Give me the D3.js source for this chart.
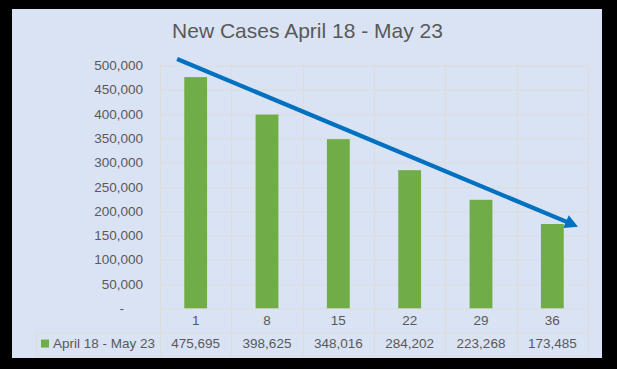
<!DOCTYPE html>
<html>
<head>
<meta charset="utf-8">
<script src="https://cdn.jsdelivr.net/npm/d3@7"></script>
<style>
  html, body { margin: 0; padding: 0; background: #000; }
  svg { display: block; }
</style>
</head>
<body>
<div id="chart"></div>
<script>
// data
const title = "New Cases April 18 - May 23"
const seriesName = "April 18 - May 23"
const days = ["1", "8", "15", "22", "29", "36"]
const cases = [475695, 398625, 348016, 284202, 223268, 173485]
const yTicks = [0, 50000, 100000, 150000, 200000, 250000, 300000, 350000, 400000, 450000, 500000]
// trend arrow, in (category position, value)
const trendFrom = [0.24, 513000]
const trendTo = [5.86, 168000]

const W = 617, H = 369
const bg = {x: 12, y: 9, w: 590, h: 349}
const margin = {top: 65.3, right: 29, bottom: 61, left: 160}
const plotW = W - margin.left - margin.right
const plotH = 308.3 - margin.top
const rowH = 23.5
const tableLeft = 36

const txt = "#595959", grid = "#dedcd9", green = "#70ad47", blue = "#0070c0"
const font = "'Liberation Sans', Arial, sans-serif"

const svg = d3.select("#chart")
    .append("svg")
    .attr("width", W)
    .attr("height", H)
    .style("font-family", font)

svg.append("rect")
    .attr("x", bg.x).attr("y", bg.y)
    .attr("width", bg.w).attr("height", bg.h)
    .attr("fill", "#dae3f3")

svg.append("text")
    .attr("x", (bg.x + bg.x + bg.w) / 2 + 0.5)
    .attr("y", 38)
    .attr("text-anchor", "middle")
    .attr("fill", txt)
    .style("font-size", "21px")
    .text(title)

const g = svg.append("g")
    .attr("transform", `translate(${margin.left},${margin.top})`)

const x = d3.scaleBand()
    .domain(days)
    .range([0, plotW])
    .padding(0)

const y = d3.scaleLinear()
    .domain([0, 500000])
    .range([plotH, 0])

// horizontal gridlines
g.append("g")
    .selectAll("line")
    .data(yTicks)
    .join("line")
    .attr("x1", 0).attr("x2", plotW)
    .attr("y1", d => Math.round(y(d)) + 0.5)
    .attr("y2", d => Math.round(y(d)) + 0.5)
    .attr("stroke", grid)

// vertical lines through plot and table
const edges = d3.range(days.length + 1).map(i => i * x.bandwidth())
g.append("g")
    .selectAll("line")
    .data(edges)
    .join("line")
    .attr("x1", d => Math.round(d) + 0.5).attr("x2", d => Math.round(d) + 0.5)
    .attr("y1", 0).attr("y2", plotH + rowH * 2)
    .attr("stroke", grid)

// table horizontal lines
const tableTop = plotH + rowH
g.append("line")
    .attr("x1", tableLeft - margin.left).attr("x2", plotW)
    .attr("y1", Math.round(tableTop) + 0.5).attr("y2", Math.round(tableTop) + 0.5)
    .attr("stroke", grid)
g.append("line")
    .attr("x1", tableLeft - margin.left).attr("x2", plotW)
    .attr("y1", Math.round(tableTop + rowH) + 0.5).attr("y2", Math.round(tableTop + rowH) + 0.5)
    .attr("stroke", grid)
g.append("line")
    .attr("x1", tableLeft - margin.left + 0.5).attr("x2", tableLeft - margin.left + 0.5)
    .attr("y1", tableTop).attr("y2", tableTop + rowH)
    .attr("stroke", grid)

// y axis labels
const fmt = d3.format(",")
g.append("g")
    .selectAll("text")
    .data(yTicks)
    .join("text")
    .attr("x", -17)
    .attr("y", d => y(d))
    .attr("dy", "0.35em")
    .attr("text-anchor", "end")
    .attr("fill", txt)
    .style("font-size", "13.5px")
    .text(d => d === 0 ? "-" : fmt(d))
    .filter(d => d === 0)
    .attr("x", -36)

// bars
const barW = x.bandwidth() * 0.32
g.append("g")
    .selectAll("rect")
    .data(cases)
    .join("rect")
    .attr("x", (d, i) => x(days[i]) + (x.bandwidth() - barW) / 2)
    .attr("y", d => y(d))
    .attr("width", barW)
    .attr("height", d => plotH - y(d))
    .attr("fill", green)

// category labels
g.append("g")
    .selectAll("text")
    .data(days)
    .join("text")
    .attr("x", d => x(d) + x.bandwidth() / 2)
    .attr("y", plotH + rowH / 2)
    .attr("dy", "0.35em")
    .attr("text-anchor", "middle")
    .attr("fill", txt)
    .style("font-size", "13.5px")
    .text(d => d)

// table values
g.append("g")
    .selectAll("text")
    .data(cases)
    .join("text")
    .attr("x", (d, i) => x(days[i]) + x.bandwidth() / 2)
    .attr("y", tableTop + rowH / 2)
    .attr("dy", "0.35em")
    .attr("text-anchor", "middle")
    .attr("fill", txt)
    .style("font-size", "13.5px")
    .text(d => fmt(d))

// legend key
g.append("rect")
    .attr("x", 41 - margin.left)
    .attr("y", tableTop + rowH / 2 - 4)
    .attr("width", 8).attr("height", 8)
    .attr("fill", green)
g.append("text")
    .attr("x", 53 - margin.left)
    .attr("y", tableTop + rowH / 2)
    .attr("dy", "0.35em")
    .attr("fill", txt)
    .style("font-size", "13.5px")
    .text(seriesName)

// trend arrow
const headLen = 13, headWide = 14
const x1 = trendFrom[0] * x.bandwidth(), y1 = y(trendFrom[1])
const x2 = trendTo[0] * x.bandwidth(), y2 = y(trendTo[1])
const len = Math.hypot(x2 - x1, y2 - y1)
const ux = (x2 - x1) / len, uy = (y2 - y1) / len
const bx = x2 - ux * headLen, by = y2 - uy * headLen

g.append("line")
    .attr("x1", x1).attr("y1", y1)
    .attr("x2", bx + ux * 2).attr("y2", by + uy * 2)
    .attr("stroke", blue)
    .attr("stroke-width", 4.2)

g.append("path")
    .attr("d", d3.line()([
        [x2, y2],
        [bx - uy * headWide / 2, by + ux * headWide / 2],
        [bx + uy * headWide / 2, by - ux * headWide / 2]
    ]) + "Z")
    .attr("fill", blue)
</script>
</body>
</html>
